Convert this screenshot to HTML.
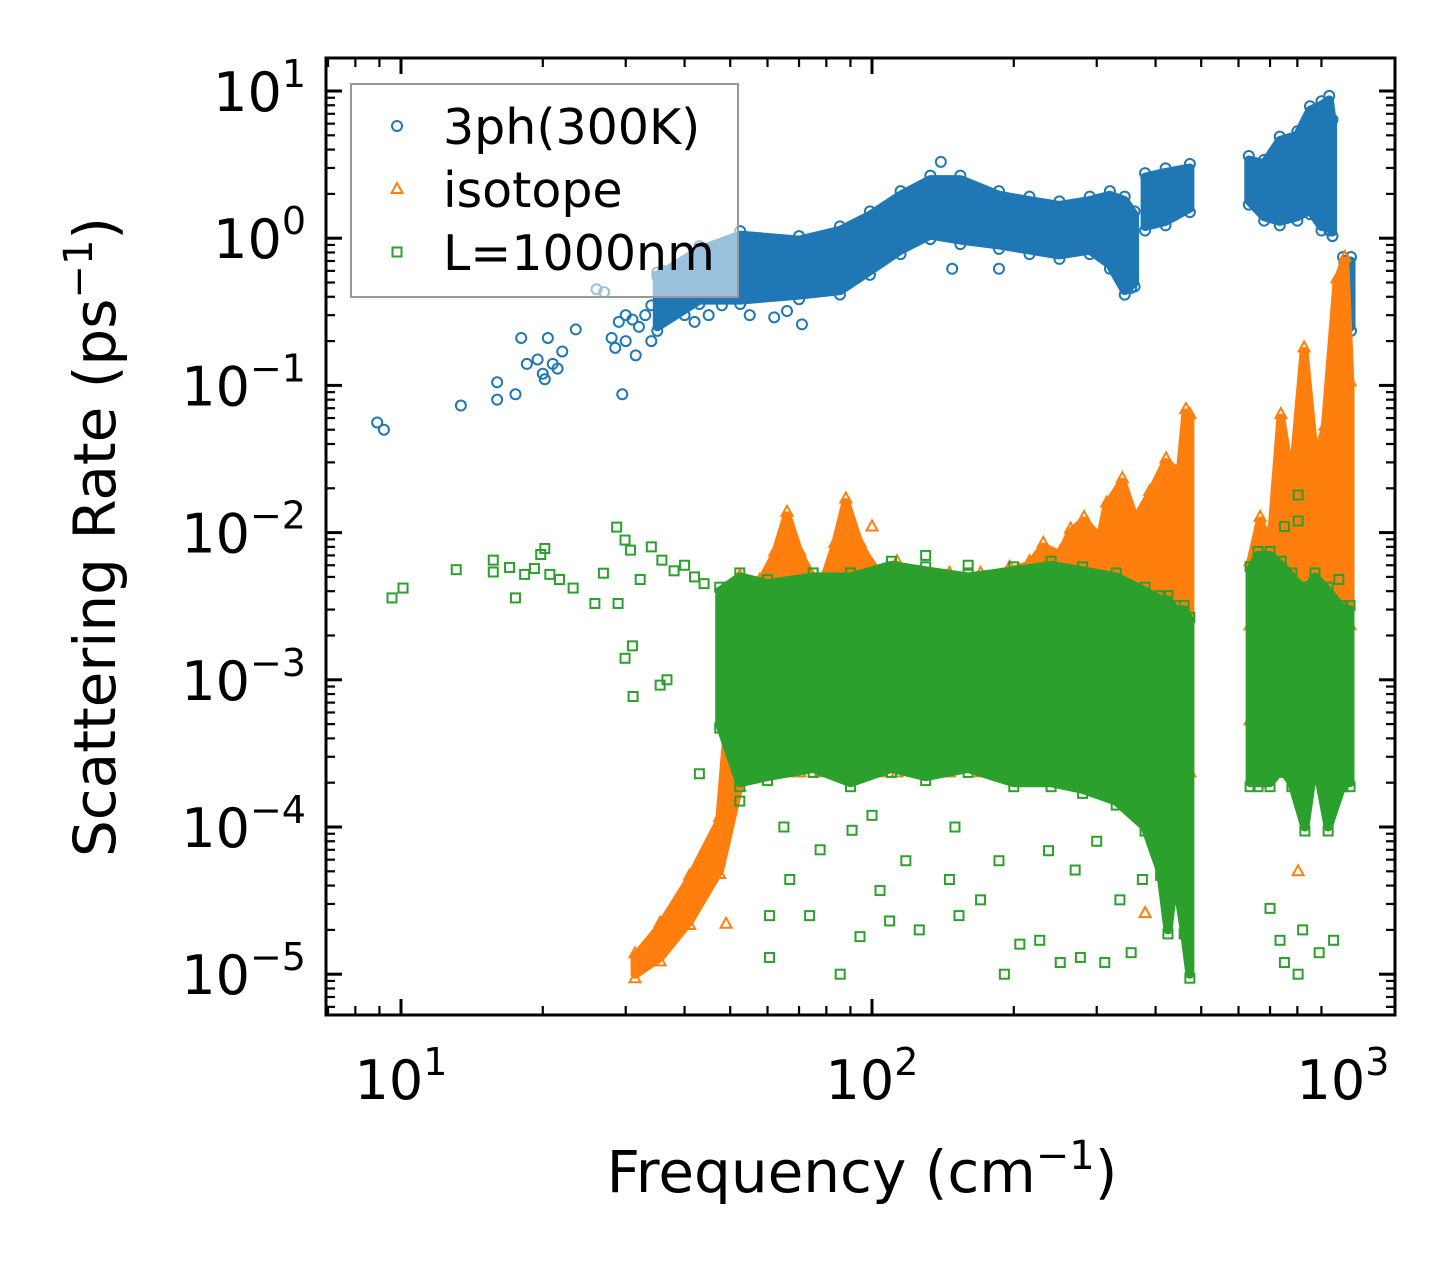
<!DOCTYPE html>
<html><head><meta charset="utf-8">
<style>
html,body{margin:0;padding:0;background:#fff;}
svg{display:block;font-family:"DejaVu Sans","Liberation Sans",sans-serif;}
</style></head>
<body>
<svg id="chart" width="1455" height="1265" viewBox="0 0 1455 1265" xmlns="http://www.w3.org/2000/svg">
<defs><clipPath id="plotclip"><rect x="326" y="58" width="1069" height="957"/></clipPath></defs>
<rect x="0" y="0" width="1455" height="1265" fill="#fff"/>
<g id="series" clip-path="url(#plotclip)"></g>
<g id="axes"></g>
<g id="legend"></g>
</svg>
<script>
// ---- data ----
const xTickValues = [10, 100, 1000];
const xTickExps = ["1", "2", "3"];
const yTickValues = [10, 1, 0.1, 0.01, 0.001, 0.0001, 0.00001];
const yTickExps = ["1", "0", "\u22121", "\u22122", "\u22123", "\u22124", "\u22125"];
// dense bands: [frequency, low, high]
const blueBandA = [[35,0.25,0.55],[43,0.38,0.83],[52.5,0.38,1.05],[70,0.41,0.97],[85.5,0.44,1.13],[99,0.6,1.43],[115,0.83,1.96],[133,1.05,2.5],[154,0.97,2.5],[186,0.9,1.96],[216,0.83,1.8],[250,0.77,1.67],[290,0.83,1.8],[320,0.66,1.96],[344,0.44,1.8],[361,0.5,1.43]];
const blueBandB = [[380,1.2,2.6],[420,1.3,2.8],[473,1.6,3.0]];
const blueBandC = [[631,1.8,3.4],[680,1.4,3.2],[734,1.3,4.6],[800,1.4,5.0],[851,1.55,7.4],[900,1.2,8.0],[935,1.2,8.7],[950,1.1,6.0]];
const blueBandD = [[1000,0.25,0.7],[1040,0.25,0.7]];
const orangeBandA = [[31.4,1.0e-5,1.3e-5],[35.5,1.3e-5,2.1e-5],[41,2.3e-5,4.4e-5],[47.5,5.1e-5,1.1e-4],[52.4,2.0e-4,0.0048],[57.8,2.5e-4,0.0045],[62.2,2.5e-4,0.007],[66,2.5e-4,0.013],[70.3,2.5e-4,0.007],[77.6,2.5e-4,0.004],[83.4,2.5e-4,0.008],[88,2.5e-4,0.016],[94.4,2.5e-4,0.008],[104,2.5e-4,0.005],[113,2.5e-4,0.006],[126,2.5e-4,0.005],[146,2.5e-4,0.005],[170,2.5e-4,0.005],[196,2.5e-4,0.0055],[216,2.5e-4,0.006],[231,2.5e-4,0.008],[251,2.5e-4,0.007],[264,2.5e-4,0.01],[282,2.5e-4,0.012],[305,2.5e-4,0.009],[315,2.5e-4,0.015],[340,2.5e-4,0.022],[362,2.5e-4,0.012],[389,2.5e-4,0.018],[421,2.5e-4,0.03],[451,2.5e-4,0.025],[464,2.5e-4,0.065],[473,2.5e-4,0.06]];
const orangeBandB = [[635,0.0025,0.006],[667,0.0025,0.012],[700,0.0025,0.007],[738,0.0025,0.06],[779,0.0025,0.02],[827,0.0025,0.17],[872,0.0025,0.03],[916,0.0025,0.05],[971,0.0025,0.5],[1009,0.0025,0.7],[1035,0.0025,0.1]];
const greenBandA = [[47.5,5e-4,0.004],[52.4,2e-4,0.005],[60,2.2e-4,0.0045],[75,2.5e-4,0.005],[90,2e-4,0.005],[110,2.5e-4,0.006],[130,2.2e-4,0.0055],[160,2.5e-4,0.005],[200,2e-4,0.0055],[240,2e-4,0.006],[280,1.8e-4,0.0055],[330,1.5e-4,0.005],[380,1e-4,0.004],[410,5e-5,0.0035],[425,2e-5,0.0035],[440,5e-5,0.003],[460,2e-5,0.003],[473,1e-5,0.0025]];
const greenBandB = [[635,2e-4,0.0055],[660,2e-4,0.007],[700,2e-4,0.007],[740,2.5e-4,0.006],[779,2e-4,0.005],[830,1e-4,0.004],[872,3e-4,0.005],[930,1e-4,0.004],[1000,2e-4,0.003],[1035,2e-4,0.003]];
// isolated points: [frequency, value]
const bluePoints = [[8.9,0.056],[9.2,0.05],[13.4,0.073],[16,0.105],[16,0.08],[17.5,0.087],[18,0.21],[18.5,0.14],[19.5,0.15],[20,0.12],[20.2,0.11],[20.5,0.21],[21,0.14],[21.5,0.13],[22,0.17],[23.5,0.24],[26,0.45],[27,0.43],[28,0.21],[28.5,0.18],[29,0.27],[29.5,0.087],[30,0.3],[30,0.2],[31,0.28],[31.5,0.16],[32,0.25],[33,0.3],[34,0.2],[34,0.35],[35,0.55],[35.5,0.27],[36,0.6],[37,0.3],[37.5,0.5],[38,0.35],[39,0.45],[40,0.3],[40,0.7],[41,0.4],[42,0.27],[43,0.65],[44,0.5],[45,0.3],[46,0.8],[48,0.35],[50,0.45],[55,0.3],[62,0.29],[66,0.32],[71,0.26],[140,3.3],[135,2.4],[148,0.62],[186,0.62],[355,0.46],[1010,0.7],[1020,0.6]];
const orangePoints = [[49,2.2e-5],[100,0.011],[700,0.0105],[772,7.2e-4],[635,5.3e-4],[645,0.0012],[380,2.6e-5],[803,5e-5],[1010,0.0076],[1010,0.018],[60,0.0045],[75,0.0035]];
const greenPoints = [[9.57,0.0036],[10.1,0.0042],[13.1,0.0056],[15.7,0.0065],[15.7,0.0054],[17,0.0058],[17.5,0.0036],[18.3,0.0052],[19.2,0.0057],[19.8,0.0071],[20.2,0.0078],[20.7,0.0052],[21.7,0.0048],[23.2,0.0042],[25.8,0.0033],[26.9,0.0053],[28.7,0.0109],[28.9,0.0033],[29.9,0.0089],[30.7,0.0076],[31,0.0017],[29.9,0.0014],[32.2,0.0048],[35.5,0.00092],[31.1,0.00077],[34,0.008],[35.8,0.0065],[36.7,0.001],[38,0.0055],[40,0.006],[42,0.005],[44,0.0045],[43,0.00023],[52.4,0.00015],[60.6,1.3e-5],[60.6,2.5e-5],[66.9,4.4e-5],[73.7,2.5e-5],[85.6,1.0e-5],[94.3,1.8e-5],[104,3.7e-5],[109,2.3e-5],[118,5.9e-5],[126,2e-5],[146,4.4e-5],[153,2.5e-5],[170,3.2e-5],[191,1e-5],[206,1.6e-5],[227,1.7e-5],[251,1.2e-5],[270,5.1e-5],[277,1.3e-5],[312,1.2e-5],[336,3.2e-5],[355,1.4e-5],[375,4.4e-5],[700,2.8e-5],[735,1.7e-5],[751,1.2e-5],[803,1.0e-5],[821,2e-5],[890,1.4e-5],[955,1.7e-5],[803,0.018],[803,0.012],[751,0.011],[980,0.0048],[77.6,7e-5],[90.7,9.5e-5],[186,5.9e-5],[237,6.9e-5],[65,1e-4],[100,1.2e-4],[150,1e-4],[300,8e-5],[130,7e-3],[160,6e-3]];

// ---- scales ----
const X0 = 401, XDEC = 471, Y0 = 91, YDEC = 147.2;
function sx(f){ return X0 + (Math.log10(f) - 1) * XDEC; }
function sy(v){ return Y0 + (1 - Math.log10(v)) * YDEC; }
const NS = "http://www.w3.org/2000/svg";
function mk(tag, attrs, parent){ const e = document.createElementNS(NS, tag); for (const k in attrs) e.setAttribute(k, attrs[k]); parent.appendChild(e); return e; }

const series = document.getElementById('series');
const C_BLUE = '#1f77b4', C_OR = '#ff7f0e', C_GR = '#2ca02c';

function marker(kind, x, y, color, parent){
  let e;
  if (kind === 'circle') e = mk('circle', {cx: x, cy: y, r: 5, fill: 'none', stroke: color, 'stroke-width': 2}, parent);
  else if (kind === 'tri') e = mk('polygon', {points: `${x},${y-6} ${x-5.5},${y+4} ${x+5.5},${y+4}`, fill: 'none', stroke: color, 'stroke-width': 2}, parent);
  else e = mk('rect', {x: x-4.5, y: y-4.5, width: 9, height: 9, fill: 'none', stroke: color, 'stroke-width': 2}, parent);
  return e;
}
function drawBand(band, color, name, kind){
  let pts = band.map(d => sx(d[0]).toFixed(1)+','+sy(d[2]).toFixed(1));
  pts = pts.concat(band.slice().reverse().map(d => sx(d[0]).toFixed(1)+','+sy(d[1]).toFixed(1)));
  const p = mk('polygon', {points: pts.join(' '), fill: color, stroke: color, 'stroke-width': 9, 'stroke-linejoin': 'round'}, series);
  
  
  band.forEach(d => {
    const a = marker(kind, sx(d[0]), sy(d[2]) - 4, color, series);
    
    
    const b = marker(kind, sx(d[0]), sy(d[1]) + 4, color, series);
    
    
  });
}
function drawPoints(arr, kind, color, name){
  const g = mk('g', {}, series);
  
  
  arr.forEach(d => {
    const e = marker(kind, sx(d[0]), sy(d[1]), color, g);
    
    
  });
}
drawBand(blueBandA, C_BLUE, 'threeph-band-low', 'circle');
drawBand(blueBandB, C_BLUE, 'threeph-band-mid', 'circle');
drawBand(blueBandC, C_BLUE, 'threeph-band-high', 'circle');
drawBand(blueBandD, C_BLUE, 'threeph-band-edge', 'circle');
drawPoints(bluePoints, 'circle', C_BLUE, 'threeph-series');
drawBand(orangeBandA, C_OR, 'isotope-band-low', 'tri');
drawBand(orangeBandB, C_OR, 'isotope-band-high', 'tri');
drawPoints(orangePoints, 'tri', C_OR, 'isotope-series');
drawBand(greenBandA, C_GR, 'boundary-band-low', 'sq');
drawBand(greenBandB, C_GR, 'boundary-band-high', 'sq');
drawPoints(greenPoints, 'sq', C_GR, 'boundary-series');

// ---- axes ----
const axes = document.getElementById('axes');
const L = 326, R = 1395, T = 58, B = 1015;
const frame = mk('rect', {x: L, y: T, width: R-L, height: B-T, fill: 'none', stroke: '#000', 'stroke-width': 3}, axes);


function tick(x1,y1,x2,y2,w){ const t = mk('line', {x1,y1,x2,y2,stroke:'#000','stroke-width':w}, axes);   }
[1,10,100].forEach(dec => { for (let m=1; m<10; m++){ const f = dec*m; const x = sx(f); if (x < L || x > R) continue; const major = m===1; const len = major?16:9; const w = major?3:2.2; tick(x,B,x,B-len,w); tick(x,T,x,T+len,w); } });
[1e-6,1e-5,1e-4,1e-3,1e-2,1e-1,1].forEach(dec => { for (let m=1; m<10; m++){ const v = dec*m; const y = sy(v); if (y < T || y > B) continue; const major = m===1; const len = major?16:9; const w = major?3:2.2; tick(L,y,L+len,y,w); tick(R,y,R-len,y,w); } });
tick(L,sy(10),L+16,sy(10),3); tick(R,sy(10),R-16,sy(10),3);
xTickValues.forEach((v,i) => {
  const t = mk('text', {x: sx(v), y: 1099, 'text-anchor': 'middle', 'font-size': 54, fill: '#000'}, axes);
  t.innerHTML = '10<tspan dy="-24" font-size="38">' + xTickExps[i] + '</tspan>';
  
  
});
yTickValues.forEach((v,i) => {
  const t = mk('text', {x: 306, y: sy(v)+20, 'text-anchor': 'end', 'font-size': 54, fill: '#000'}, axes);
  t.innerHTML = '10<tspan dy="-24" font-size="38">' + yTickExps[i] + '</tspan>';
  
  
});
const xt = mk('text', {x: 862, y: 1192, 'text-anchor': 'middle', 'font-size': 58, fill: '#000'}, axes);
xt.innerHTML = 'Frequency (cm<tspan dy="-23" font-size="40">\u22121</tspan><tspan dy="23">)</tspan>';


const yt = mk('text', {x: 0, y: 0, 'text-anchor': 'middle', 'font-size': 58, fill: '#000', transform: 'translate(115,537) rotate(-90)'}, axes);
yt.innerHTML = 'Scattering Rate (ps<tspan dy="-23" font-size="40">\u22121</tspan><tspan dy="23">)</tspan>';



// ---- legend ----
const lg = document.getElementById('legend');
const box = mk('rect', {x: 351, y: 84, width: 387, height: 213, fill: '#fff', 'fill-opacity': 0.55, stroke: '#999', 'stroke-width': 2}, lg);


const legendLabels = ['3ph(300K)', 'isotope', 'L=1000nm'];
const legendKinds = ['circle', 'tri', 'sq'];
const legendColors = [C_BLUE, C_OR, C_GR];
legendLabels.forEach((lab, i) => {
  const cy = 126 + i*63;
  const g = mk('g', {}, lg);
  
  
  marker(legendKinds[i], 397, cy, legendColors[i], g);
  const t = mk('text', {x: 443, y: cy+18, 'font-size': 49, fill: '#000'}, g);
  t.textContent = lab;
  
  
});
</script>
</body></html>
